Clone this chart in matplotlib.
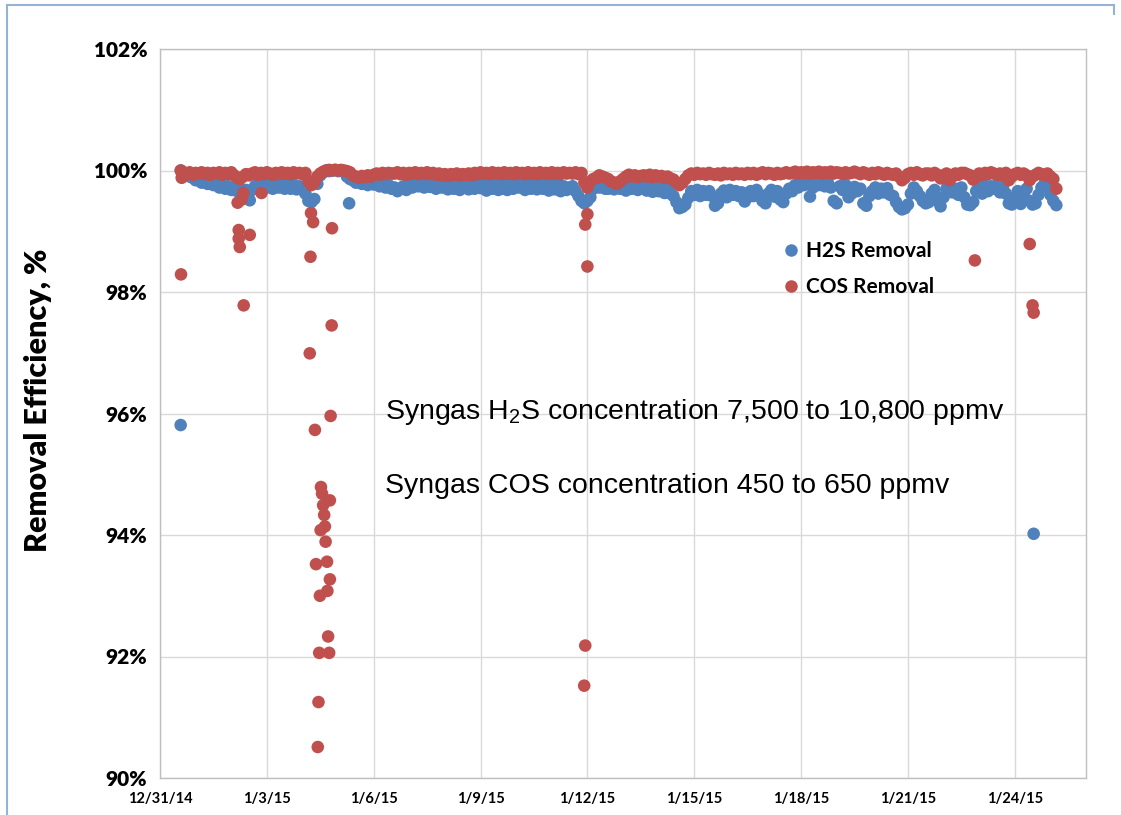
import datetime as dt
import numpy as np
import pandas as pd
import matplotlib
matplotlib.use("Agg")
import matplotlib.pyplot as plt
import matplotlib.dates as mdates
from matplotlib.lines import Line2D

# Removal efficiency (%) logged every 2 hours, starting 12/31/14 14:00
h2s_removal = [
    100.00, 99.97, 99.93, 99.90, 99.88, 99.84, 99.85, 99.80, 99.82, 99.78, 99.80, 99.76,
    99.78, 99.72, 99.76, 99.70, 99.74, 99.68, 99.72, 99.66, 99.70, 99.64, 99.68, 99.65,
    99.68, 99.74, 99.78, 99.81, 99.78, 99.72, 99.78, 99.70, 99.77, 99.72, 99.78, 99.70,
    99.77, 99.70, 99.76, 99.69, 99.74, 99.68, 99.62, 99.50, 99.48, 99.53, 99.78, 99.92,
    99.97, 100.00, 99.99, 100.00, 100.01, 99.99, 100.00, 99.98, 99.90, 99.86, 99.84, 99.80,
    99.84, 99.78, 99.83, 99.76, 99.82, 99.77, 99.80, 99.74, 99.78, 99.72, 99.76, 99.70,
    99.72, 99.66, 99.70, 99.74, 99.68, 99.78, 99.72, 99.80, 99.74, 99.79, 99.72, 99.80,
    99.73, 99.80, 99.70, 99.78, 99.72, 99.80, 99.69, 99.78, 99.70, 99.76, 99.68, 99.74,
    99.78, 99.69, 99.78, 99.70, 99.80, 99.71, 99.78, 99.67, 99.76, 99.70, 99.79, 99.68,
    99.70, 99.79, 99.68, 99.77, 99.70, 99.80, 99.72, 99.78, 99.68, 99.76, 99.70, 99.78,
    99.69, 99.77, 99.70, 99.78, 99.67, 99.76, 99.69, 99.78, 99.66, 99.74, 99.68, 99.72,
    99.74, 99.66, 99.58, 99.50, 99.46, 99.50, 99.56, 99.70, 99.78, 99.72, 99.79, 99.70,
    99.70, 99.78, 99.69, 99.77, 99.70, 99.78, 99.67, 99.75, 99.70, 99.77, 99.68, 99.74,
    99.75, 99.67, 99.73, 99.65, 99.74, 99.66, 99.72, 99.63, 99.70, 99.62, 99.58, 99.48,
    99.38, 99.40, 99.44, 99.55, 99.66, 99.60, 99.68, 99.58, 99.66, 99.60, 99.66, 99.58,
    99.42, 99.46, 99.62, 99.67, 99.56, 99.68, 99.60, 99.66, 99.58, 99.64, 99.49, 99.56,
    99.66, 99.58, 99.68, 99.60, 99.50, 99.46, 99.62, 99.68, 99.57, 99.66, 99.52, 99.48,
    99.62, 99.70, 99.66, 99.76, 99.72, 99.80, 99.76, 99.81, 99.57, 99.72, 99.78, 99.76,
    99.81, 99.74, 99.80, 99.72, 99.50, 99.46, 99.74, 99.68, 99.76, 99.56, 99.62, 99.73,
    99.66, 99.70, 99.46, 99.42, 99.58, 99.66, 99.72, 99.62, 99.70, 99.64, 99.71, 99.60,
    99.58, 99.48, 99.40, 99.36, 99.38, 99.44, 99.62, 99.72, 99.66, 99.58, 99.50, 99.46,
    99.48, 99.62, 99.68, 99.50, 99.41, 99.56, 99.70, 99.74, 99.64, 99.70, 99.60, 99.72,
    99.56, 99.44, 99.43, 99.48, 99.66, 99.73, 99.62, 99.75, 99.66, 99.74, 99.70, 99.76,
    99.64, 99.72, 99.62, 99.46, 99.44, 99.52, 99.66, 99.45, 99.62, 99.70, 99.50, 99.44,
    99.46, 99.60, 99.72, 99.78, 99.74, 99.60, 99.50, 99.43,
]
cos_removal = [
    100.00, 99.96, 99.94, 99.97, 99.93, 99.96, 99.95, 99.97, 99.94, 99.96, 99.93, 99.96,
    99.95, 99.97, 99.93, 99.96, 99.94, 99.97, 99.92, 99.88, 99.86, 99.90, 99.94, 99.92,
    99.95, 99.97, 99.93, 99.96, 99.94, 99.97, 99.95, 99.93, 99.96, 99.94, 99.97, 99.95,
    99.96, 99.94, 99.97, 99.95, 99.96, 99.94, 99.96, 99.82, 99.76, 99.80, 99.90, 99.95,
    99.98, 100.00, 100.01, 100.00, 100.01, 100.00, 100.01, 100.00, 99.99, 99.97, 99.92, 99.90,
    99.88, 99.91, 99.89, 99.92, 99.90, 99.93, 99.95, 99.93, 99.96, 99.94, 99.96, 99.95,
    99.95, 99.97, 99.94, 99.96, 99.93, 99.96, 99.95, 99.97, 99.94, 99.96, 99.95, 99.97,
    99.94, 99.96, 99.93, 99.95, 99.92, 99.94, 99.91, 99.94, 99.93, 99.95, 99.92, 99.94,
    99.93, 99.95, 99.92, 99.96, 99.94, 99.97, 99.95, 99.96, 99.94, 99.97, 99.95, 99.96,
    99.94, 99.97, 99.95, 99.96, 99.94, 99.97, 99.95, 99.96, 99.94, 99.97, 99.95, 99.96,
    99.94, 99.97, 99.95, 99.96, 99.94, 99.97, 99.95, 99.96, 99.94, 99.97, 99.95, 99.96,
    99.95, 99.97, 99.94, 99.96, 99.80, 99.72, 99.82, 99.86, 99.88, 99.92, 99.90, 99.88,
    99.86, 99.82, 99.80, 99.78, 99.82, 99.86, 99.90, 99.93, 99.90, 99.92, 99.89, 99.91,
    99.92, 99.90, 99.93, 99.89, 99.92, 99.90, 99.91, 99.88, 99.90, 99.87, 99.85, 99.80,
    99.76, 99.80, 99.86, 99.92, 99.95, 99.93, 99.96, 99.94, 99.95, 99.93, 99.96, 99.94,
    99.93, 99.95, 99.92, 99.96, 99.94, 99.95, 99.93, 99.96, 99.94, 99.95, 99.93, 99.96,
    99.94, 99.96, 99.93, 99.95, 99.97, 99.94, 99.96, 99.95, 99.93, 99.96, 99.94, 99.95,
    99.97, 99.95, 99.96, 99.98, 99.95, 99.97, 99.96, 99.98, 99.95, 99.97, 99.96, 99.98,
    99.95, 99.97, 99.96, 99.98, 99.95, 99.97, 99.96, 99.94, 99.97, 99.95, 99.96, 99.98,
    99.96, 99.94, 99.97, 99.95, 99.93, 99.96, 99.94, 99.97, 99.95, 99.93, 99.96, 99.94,
    99.93, 99.95, 99.90, 99.84, 99.88, 99.94, 99.96, 99.93, 99.97, 99.94, 99.92, 99.95,
    99.95, 99.92, 99.96, 99.93, 99.87, 99.92, 99.95, 99.84, 99.90, 99.95, 99.93, 99.96,
    99.96, 99.94, 99.92, 99.85, 99.90, 99.95, 99.93, 99.96, 99.94, 99.97, 99.95, 99.93,
    99.95, 99.92, 99.96, 99.84, 99.90, 99.94, 99.96, 99.93, 99.95, 99.92, 99.84, 99.90,
    99.93, 99.96, 99.94, 99.92, 99.95, 99.90, 99.86, 99.70,
]

# Upset readings, as days after 12/31/14 00:00
h2s_upset_day = [0.58, 2.52, 5.31, 24.53]
h2s_upset_val = [95.81, 99.51, 99.46, 94.02]
cos_upset_day = [0.61, 0.59, 2.18, 2.29, 2.34, 2.21, 2.21, 2.24, 2.35, 2.52,
                 2.85, 4.225, 4.24, 4.30, 4.205, 4.83, 4.82, 4.79, 4.35, 4.52,
                 4.55, 4.77, 4.58, 4.61, 4.63, 4.51, 4.65, 4.38, 4.69, 4.77,
                 4.70, 4.49, 4.72, 4.47, 4.75, 4.45, 4.43, 11.94, 12.0, 12.0,
                 11.94, 11.91, 22.88, 24.42, 24.50, 24.53]
cos_upset_val = [99.88, 98.29, 99.47, 99.52, 99.63, 99.02, 98.88, 98.74, 97.78, 98.94,
                 99.63, 98.58, 99.30, 99.15, 96.99, 99.05, 97.45, 95.96, 95.73, 94.79,
                 94.68, 94.57, 94.49, 94.33, 94.14, 94.08, 93.89, 93.52, 93.56, 93.27,
                 93.08, 93.00, 92.33, 92.06, 92.06, 91.25, 90.51, 99.11, 99.28, 98.42,
                 92.18, 91.52, 98.52, 98.79, 97.78, 97.66]

blue = "#4F81BD"
red = "#C0504D"

t0 = dt.datetime(2014, 12, 31)
t_h2s = pd.date_range("2014-12-31 14:00", periods=len(h2s_removal), freq="2h")
t_cos = pd.date_range("2014-12-31 14:00", periods=len(cos_removal), freq="2h")
base = mdates.date2num(t0)

fig = plt.figure(figsize=(11.21, 8.15), dpi=100)
ax = fig.add_axes([160 / 1121, 37 / 815, 926 / 1121, 729 / 815])

ms = 82
ax.scatter(mdates.date2num(t_h2s), h2s_removal, s=ms, color=blue, edgecolors="none", zorder=3)
ax.scatter(base + np.array(h2s_upset_day), h2s_upset_val, s=ms, color=blue,
           edgecolors="none", zorder=3)
ax.scatter(mdates.date2num(t_cos), cos_removal, s=ms, color=red, edgecolors="none", zorder=4)
ax.scatter(base + np.array(cos_upset_day), cos_upset_val, s=ms, color=red,
           edgecolors="none", zorder=4)

ax.set_ylim(90, 102)
ax.set_yticks(np.arange(90, 103, 2))
ax.set_yticklabels([f"{v}%" for v in range(90, 103, 2)])
ax.set_xlim(base, base + 26)
ax.set_xticks([base + d for d in range(0, 25, 3)])
ax.xaxis.set_major_formatter(mdates.DateFormatter("%-m/%-d/%y"))

ax.grid(True, color="#D9D9D9", lw=1)
ax.set_axisbelow(True)
for sp in ax.spines.values():
    sp.set_color("#BFBFBF")
    sp.set_linewidth(1)
ax.tick_params(length=0)
ax.tick_params(axis="y", pad=9)
ax.tick_params(axis="x", pad=10)
for lbl in ax.get_yticklabels():
    lbl.set_fontfamily("Lato")
    lbl.set_fontweight("heavy")
    lbl.set_fontsize(15)
for lbl in ax.get_xticklabels():
    lbl.set_fontfamily("Lato")
    lbl.set_fontweight("bold")
    lbl.set_fontsize(10.5)

fig.text(38 / 1121, 1 - 400 / 815, "Removal Efficiency, %", rotation=90,
         ha="center", va="center", fontsize=22, fontweight="heavy", family="Lato")

ax.text(base + 6.31, 96.02, "Syngas H$_{\\mathregular{2}}$S concentration 7,500 to 10,800 ppmv",
        fontsize=20.5, family="Liberation Sans", va="center", ha="left")
ax.text(base + 6.31, 94.80, "Syngas COS concentration 450 to 650 ppmv",
        fontsize=20.5, family="Liberation Sans", va="center", ha="left")

handles = [Line2D([], [], ls="none", marker="o", ms=9, color=blue, mec="none"),
           Line2D([], [], ls="none", marker="o", ms=9, color=red, mec="none")]
ax.legend(handles, ["H2S Removal", "COS Removal"], loc="center left",
          bbox_to_anchor=(0.672, 0.698), frameon=False, handlelength=0.8,
          handletextpad=0.35, labelspacing=0.8, borderpad=0, borderaxespad=0,
          prop={"family": "Lato", "weight": "bold", "size": 15})

# slide frame
frame = "#95B3D7"
fig.add_artist(Line2D([7 / 1121, 7 / 1121], [0, 1 - 5 / 815], color=frame, lw=1.5))
fig.add_artist(Line2D([7 / 1121, 1114 / 1121], [1 - 5 / 815, 1 - 5 / 815], color=frame, lw=1.5))
fig.add_artist(Line2D([1114 / 1121, 1114 / 1121], [1 - 5 / 815, 1 - 14 / 815], color=frame, lw=1.5))

fig.savefig("out.png", dpi=100)
